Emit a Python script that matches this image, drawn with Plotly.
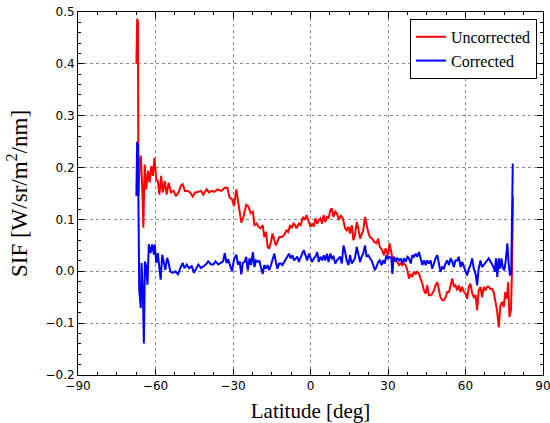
import plotly.graph_objects as go

# Uncorrected (red) series: latitude [deg] and SIF values
lat_uncorr = [
    -67.4, -67.1, -66.8, -66.6, -66.2, -65.7, -65.1, -64.7, -64.2, -63.6,
    -62.9, -62.3, -61.6, -61.0, -60.4, -59.7, -59.1, -58.5, -57.8, -57.2,
    -56.4, -55.7, -54.9, -54.0, -53.0, -52.1, -51.1, -50.2, -49.5, -48.6,
    -47.5, -46.6, -45.6, -44.7, -43.7, -42.4, -41.5, -40.2, -39.3, -38.3,
    -37.3, -36.0, -34.5, -33.2, -32.2, -31.3, -30.4, -29.6, -28.7, -28.1,
    -27.4, -26.8, -25.9, -25.3, -24.9, -24.0, -23.2, -22.3, -21.7, -20.8,
    -20.2, -19.4, -18.5, -17.9, -17.2, -16.6, -16.0, -15.3, -14.7, -14.0,
    -13.4, -12.8, -12.1, -11.2, -10.2, -9.3, -8.6, -7.9, -7.3, -6.6,
    -6.0, -5.4, -4.5, -3.8, -2.9, -2.3, -1.5, -0.9, 0.0, 0.6,
    1.3, 1.9, 2.6, 3.2, 3.8, 4.5, 5.1, 5.7, 6.4, 7.0,
    7.7, 8.3, 8.9, 9.6, 10.2, 11.0, 11.7, 12.5, 13.4, 14.0,
    14.7, 15.3, 16.0, 16.6, 17.2, 17.9, 18.5, 19.2, 19.8, 20.4,
    21.1, 21.7, 22.3, 23.0, 23.9, 24.6, 25.5, 26.2, 26.8, 27.7,
    28.4, 29.0, 29.6, 30.0, 30.6, 31.2, 31.7, 32.3, 33.0, 33.6,
    34.3, 34.9, 35.5, 36.2, 36.8, 37.5, 38.1, 38.8, 39.4, 40.0,
    40.7, 41.3, 42.0, 42.6, 43.3, 43.9, 44.6, 45.2, 45.8, 46.5,
    47.1, 47.8, 48.4, 49.1, 49.7, 50.3, 51.0, 51.6, 52.3, 52.9,
    53.6, 54.2, 54.9, 55.5, 56.1, 56.8, 57.4, 58.1, 58.7, 59.4,
    60.0, 60.6, 61.3, 61.9, 62.6, 63.2, 63.9, 64.5, 65.1, 65.8,
    66.4, 67.1, 67.7, 68.4, 69.0, 69.7, 70.3, 70.9, 71.6, 72.2,
    72.9, 73.5, 74.2, 74.8, 75.4, 76.1, 76.5, 77.0, 77.6, 78.0,
    78.4,
]
sif_uncorr = [
    0.400, 0.487, 0.480, 0.145, 0.200, 0.223, 0.158, 0.084, 0.206, 0.158,
    0.194, 0.171, 0.203, 0.184, 0.219, 0.177, 0.174, 0.148, 0.184, 0.152,
    0.174, 0.148, 0.171, 0.152, 0.155, 0.145, 0.152, 0.165, 0.168, 0.155,
    0.155, 0.152, 0.144, 0.152, 0.153, 0.155, 0.148, 0.158, 0.152, 0.155,
    0.153, 0.158, 0.155, 0.161, 0.161, 0.142, 0.139, 0.126, 0.158, 0.139,
    0.119, 0.094, 0.106, 0.123, 0.128, 0.125, 0.112, 0.115, 0.089, 0.092,
    0.086, 0.083, 0.089, 0.066, 0.076, 0.047, 0.044, 0.057, 0.073, 0.060,
    0.050, 0.057, 0.066, 0.066, 0.070, 0.079, 0.076, 0.089, 0.083, 0.092,
    0.089, 0.083, 0.092, 0.089, 0.105, 0.099, 0.108, 0.099, 0.086, 0.092,
    0.086, 0.102, 0.092, 0.099, 0.102, 0.092, 0.108, 0.095, 0.105, 0.102,
    0.118, 0.121, 0.105, 0.115, 0.112, 0.099, 0.108, 0.102, 0.083, 0.079,
    0.086, 0.073, 0.089, 0.060, 0.070, 0.095, 0.083, 0.063, 0.070, 0.079,
    0.105, 0.089, 0.076, 0.066, 0.063, 0.057, 0.054, 0.063, 0.047, 0.041,
    0.031, 0.044, 0.034, 0.031, 0.054, 0.035, 0.025, 0.020, 0.021, 0.018,
    0.012, 0.015, 0.012, 0.015, 0.012, 0.002, -0.014, -0.005, -0.011, -0.001,
    -0.005, -0.001, -0.005, -0.014, -0.024, -0.037, -0.043, -0.027, -0.046, -0.046,
    -0.043, -0.037, -0.027, -0.021, -0.034, -0.050, -0.056, -0.056, -0.050, -0.040,
    -0.040, -0.027, -0.014, -0.030, -0.027, -0.037, -0.027, -0.040, -0.030, -0.040,
    -0.043, -0.053, -0.030, -0.024, -0.043, -0.050, -0.046, -0.075, -0.037, -0.030,
    -0.050, -0.030, -0.037, -0.030, -0.030, -0.034, -0.034, -0.040, -0.063, -0.075,
    -0.108, -0.066, -0.059, -0.069, -0.040, -0.053, -0.021, -0.088, -0.075, 0.002,
    0.144,
]

# Corrected (blue) series
lat_corr = [
    -67.4, -67.1, -66.8, -66.3, -65.7, -65.4, -64.9, -64.5, -64.1, -63.6,
    -63.1, -62.6, -61.9, -61.3, -60.6, -60.3, -59.7, -59.1, -58.5, -58.0,
    -57.4, -56.8, -56.2, -55.5, -54.9, -54.3, -53.4, -52.3, -51.3, -50.4,
    -49.5, -48.8, -47.9, -47.0, -46.0, -45.1, -44.3, -43.4, -42.4, -41.5,
    -40.5, -39.6, -38.5, -37.6, -36.8, -35.7, -34.7, -33.8, -33.2, -32.5,
    -31.9, -31.3, -30.4, -29.6, -28.7, -28.1, -27.4, -26.8, -26.2, -25.5,
    -24.9, -24.3, -23.6, -23.0, -22.3, -21.7, -21.1, -20.4, -19.8, -19.2,
    -18.5, -17.9, -17.2, -16.6, -16.0, -15.3, -14.7, -14.0, -13.4, -12.8,
    -12.1, -11.5, -10.9, -10.2, -9.6, -8.9, -8.3, -7.7, -7.0, -6.4,
    -5.7, -5.1, -4.5, -3.8, -3.2, -2.6, -1.9, -1.3, -0.6, 0.0,
    0.6, 1.3, 1.9, 2.6, 3.2, 3.8, 4.5, 5.1, 5.7, 6.4,
    7.0, 7.7, 8.3, 8.9, 9.6, 10.2, 10.9, 11.5, 12.1, 12.8,
    13.4, 14.0, 14.7, 15.3, 16.0, 16.6, 17.2, 17.9, 18.5, 19.2,
    19.8, 20.4, 21.1, 21.7, 22.3, 23.0, 23.6, 24.3, 24.9, 25.5,
    26.2, 26.8, 27.5, 28.1, 28.7, 29.4, 30.0, 30.6, 31.3, 31.7,
    32.2, 33.0, 33.6, 34.3, 34.9, 35.5, 36.2, 36.8, 37.5, 38.1,
    38.8, 39.4, 40.0, 40.7, 41.3, 42.0, 42.6, 43.3, 43.9, 44.6,
    45.2, 45.8, 46.5, 47.1, 47.8, 48.4, 49.1, 49.7, 50.3, 51.0,
    51.6, 52.3, 52.9, 53.6, 54.2, 54.9, 55.5, 56.1, 56.8, 57.4,
    58.1, 58.7, 59.4, 60.0, 60.6, 61.3, 61.9, 62.6, 63.2, 63.9,
    64.5, 65.1, 65.8, 66.4, 67.1, 67.7, 68.4, 69.0, 69.7, 70.3,
    70.9, 71.4, 71.8, 72.3, 72.9, 73.4, 73.9, 74.4, 75.0, 75.6,
    76.2, 76.7, 77.2, 77.7, 78.3,
]
sif_corr = [
    0.145, 0.250, 0.240, -0.035, -0.071, 0.016, -0.039, -0.139, 0.019, 0.010,
    -0.026, 0.052, 0.035, 0.052, 0.032, 0.052, 0.016, 0.035, 0.006, -0.016,
    0.032, 0.019, 0.003, 0.026, 0.016, 0.000, -0.003, 0.000, -0.006, 0.006,
    0.016, 0.006, 0.013, 0.006, 0.010, -0.003, 0.006, 0.013, 0.006, 0.010,
    0.013, 0.019, 0.013, 0.013, 0.019, 0.013, 0.016, 0.019, 0.035, 0.016,
    0.023, 0.013, 0.000, 0.023, 0.032, 0.013, 0.019, -0.006, 0.016, 0.018,
    0.028, 0.002, 0.025, 0.012, 0.037, 0.008, 0.021, 0.018, 0.021, 0.008,
    -0.005, 0.012, 0.005, 0.012, 0.002, 0.012, 0.025, 0.034, 0.018, 0.005,
    0.015, 0.015, 0.012, 0.018, 0.021, 0.028, 0.034, 0.025, 0.031, 0.021,
    0.025, 0.028, 0.018, 0.025, 0.034, 0.041, 0.028, 0.021, 0.034, 0.025,
    0.018, 0.025, 0.028, 0.037, 0.018, 0.028, 0.021, 0.031, 0.021, 0.034,
    0.018, 0.034, 0.025, 0.028, 0.015, 0.021, 0.025, 0.028, 0.015, 0.050,
    0.037, 0.021, 0.012, 0.031, 0.015, 0.021, 0.025, 0.047, 0.034, 0.018,
    0.028, 0.034, 0.050, 0.028, 0.031, 0.025, 0.021, 0.012, 0.002, 0.008,
    0.018, 0.021, 0.012, 0.021, 0.015, 0.031, 0.025, 0.028, 0.025, -0.005,
    0.028, 0.021, 0.025, 0.021, 0.025, 0.015, 0.025, 0.018, 0.028, 0.025,
    0.015, 0.031, 0.028, 0.034, 0.028, 0.037, 0.025, 0.012, 0.021, 0.012,
    0.021, 0.015, 0.021, 0.005, 0.015, 0.025, 0.031, 0.018, -0.001, 0.008,
    0.005, 0.015, 0.021, 0.012, 0.025, 0.018, 0.008, 0.021, 0.021, 0.028,
    0.008, 0.018, 0.008, 0.002, -0.008, 0.005, 0.012, 0.025, 0.005, -0.005,
    -0.027, 0.005, 0.021, 0.008, 0.012, 0.015, 0.021, 0.025, 0.018, 0.012,
    0.008, -0.001, 0.025, -0.011, 0.025, 0.005, 0.025, 0.008, 0.002, 0.021,
    0.054, 0.015, -0.008, -0.005, 0.208,
]

x_ticks = [-90, -60, -30, 0, 30, 60, 90]
y_ticks = [-0.2, -0.1, 0.0, 0.1, 0.2, 0.3, 0.4, 0.5]

fig = go.Figure()
fig.add_trace(go.Scatter(x=lat_uncorr, y=sif_uncorr, mode="lines", name="Uncorrected",
                         line=dict(color="#ff0000", width=2)))
fig.add_trace(go.Scatter(x=lat_corr, y=sif_corr, mode="lines", name="Corrected",
                         line=dict(color="#0000ff", width=2)))

tick_font = dict(family="DejaVu Sans", size=12, color="black")
xtitle_font = dict(family="Liberation Serif", size=21, color="black")
ytitle_font = dict(family="Liberation Serif", size=23, color="black")
grid = dict(showgrid=True, gridcolor="#8c8c8c", gridwidth=1, griddash="dot",
            zeroline=False, showline=True, linecolor="black", linewidth=1,
            mirror="allticks", ticks="inside", ticklen=6, tickcolor="black",
            tickfont=tick_font, automargin=False, ticklabeloverflow="allow")

fig.update_layout(
    width=550, height=423,
    margin=dict(l=78, r=7, t=12, b=48),
    paper_bgcolor="white", plot_bgcolor="white",
    showlegend=True,
    legend=dict(x=0.987, y=0.981, xanchor="right", yanchor="top",
                bgcolor="white", bordercolor="black", borderwidth=1,
                font=dict(family="Liberation Serif", size=16, color="black"),
                itemwidth=30, tracegroupgap=0),
    xaxis=dict(range=[-90, 90], tickvals=x_ticks,
               title=dict(text="Latitude [deg]", font=xtitle_font, standoff=10),
               minor=dict(dtick=7.5, tick0=-90, ticks="inside", ticklen=3,
                          tickcolor="black", showgrid=False),
               **grid),
    yaxis=dict(range=[-0.2, 0.5], tickvals=y_ticks, tickformat=".1f",
               title=dict(text="SIF [W/sr/m<sup>2</sup>/nm]", font=ytitle_font, standoff=11),
               minor=dict(dtick=0.02, tick0=-0.2, ticks="inside", ticklen=3,
                          tickcolor="black", showgrid=False),
               **grid),
)

# remove the default 8 px page margin so the figure fills the window exactly
fig.write_html("out.html", config={"displayModeBar": False},
               post_script="document.body.style.margin='0';")
